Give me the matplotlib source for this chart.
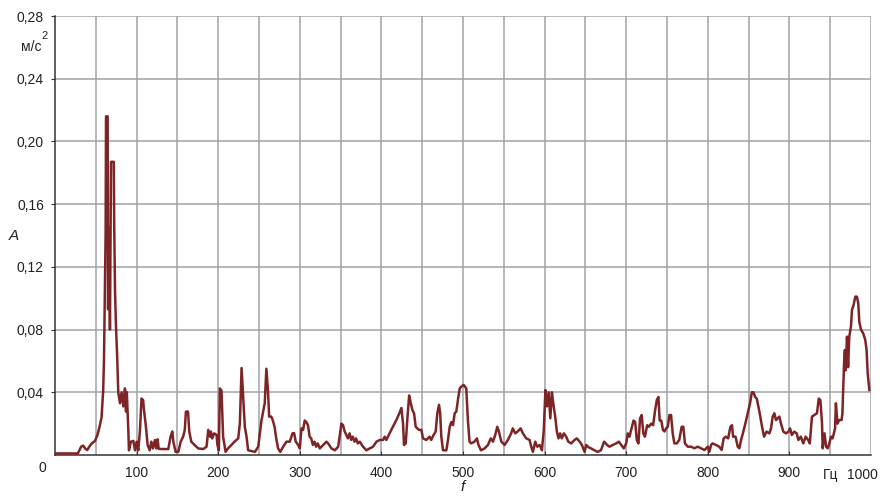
import numpy as np
import matplotlib
matplotlib.use("Agg")
import matplotlib.pyplot as plt

# спектр ускорения, значения (f, Гц ; A, м/с2)
freq = [
    0, 28, 32, 34.5, 37.5, 39.5, 42, 45, 49, 52, 55, 57, 59, 60, 61, 62, 62.5, 64.5, 65, 66,
    67.3, 68.6, 72, 72.5, 73.5, 74.7, 76, 77.5, 79.6, 81.6, 83.7, 85.7, 87, 88, 89.8, 90.6,
    93, 96, 98, 100, 102, 104, 106, 108, 109, 111, 113.5, 116, 118, 120, 122.4, 124, 125.7,
    127, 130.6, 138.8, 141.6, 143.7, 145, 147.8, 151, 154, 157, 159, 160.4, 163, 164.5, 167,
    171, 175.5, 181.6, 185.7, 187.8, 190, 191, 192.6, 195, 198, 199, 200.8, 202, 204, 206,
    209, 212, 216, 220, 224.5, 226.5, 228.6, 230.6, 232.6, 234.7, 236.7, 245, 249, 253,
    257, 259, 261, 262.4, 265, 267, 269, 271.4, 273.4, 276, 279.6, 283.7, 287.7, 291, 293,
    295, 298, 300, 302, 304, 306, 308, 310, 312, 314, 316, 318, 320, 322, 324.5, 328.6,
    332.6, 334.7, 338.8, 343, 347, 349, 351, 353, 355, 357, 359, 361, 363, 365, 367, 369,
    371, 373.4, 377.5, 381.6, 385.7, 389.8, 393.9, 398, 402, 404, 406, 408, 410, 414, 418,
    422, 424.5, 426.5, 427.7, 429.8, 432, 434, 436, 438, 440, 442, 444, 446, 449, 451, 455,
    459, 461, 464, 466.5, 468.5, 470.6, 472, 473.4, 475.5, 479.6, 481.6, 483.7, 485.7,
    487.7, 489.8, 491.8, 494, 496, 498, 500.8, 504, 506, 508, 510, 514, 517, 519, 522,
    526.5, 530.6, 534, 536.7, 539.5, 542, 544, 547, 551, 555, 559, 561, 564, 567, 570.6,
    573.4, 577.5, 581.6, 583.6, 585.7, 588.5, 591, 594, 596.7, 599, 601, 603, 605, 607,
    609, 610.6, 613, 615, 617, 619, 621, 623.6, 626.5, 629, 632.6, 636.7, 639.5, 643,
    645.7, 649, 651, 654, 657, 661, 665, 669, 673, 676.7, 679.5, 683.6, 687.7, 691, 694,
    697, 700, 702, 704, 707, 709, 711, 713, 715, 717, 719, 721, 723, 725.7, 727.7, 730.6,
    733, 735.5, 737.5, 739.5, 741, 743, 745, 747, 749, 751, 753, 755, 757, 759, 762, 765,
    768, 770, 772, 775.5, 779.5, 783.6, 787.7, 791.8, 796, 800, 802, 804, 806, 810, 814,
    817, 819.5, 822, 825, 827.7, 829.7, 831, 834, 836.7, 838.7, 840.8, 843, 846, 849,
    851.8, 854, 856, 858, 860, 862, 864, 866.5, 869, 872, 875.5, 877.5, 879.5, 881.6,
    883.6, 885.7, 887.7, 889.7, 892.6, 895.8, 899, 900.8, 903, 906, 909, 911, 914, 917,
    920, 923, 925, 927.7, 930.6, 933.8, 936, 938, 940, 940.8, 943, 945, 947, 949, 951,
    953, 956, 957, 959, 961, 964, 965, 967, 968, 969, 970.6, 972, 973.4, 975.5, 976.7,
    978.7, 980.8, 982.8, 984.4, 985.7, 987.7, 990.5, 993, 994.6, 996, 998,
]
ampl = [
    0.001, 0.001, 0.0053, 0.006, 0.0038, 0.0032, 0.0053, 0.0074, 0.009, 0.0128, 0.019, 0.024, 0.041, 0.061, 0.10, 0.142, 0.216, 0.216, 0.093, 0.145,
    0.080, 0.187, 0.187, 0.148, 0.105, 0.082, 0.065, 0.040, 0.033, 0.040, 0.031, 0.0425, 0.0277, 0.040, 0.016, 0.003,
    0.0085, 0.009, 0.003, 0.0085, 0.003, 0.015, 0.036, 0.035, 0.0287, 0.020, 0.0064, 0.003, 0.0085, 0.0042, 0.0096, 0.0042, 0.010,
    0.004, 0.0038, 0.0038, 0.0117, 0.015, 0.0085, 0.002, 0.002, 0.0085, 0.0117, 0.016, 0.0277, 0.0277, 0.015, 0.0085,
    0.0064, 0.0042, 0.0038, 0.0053, 0.016, 0.0117, 0.015, 0.0106, 0.0138, 0.0128, 0.0064, 0.003, 0.0425, 0.041, 0.0117,
    0.002, 0.0042, 0.0064, 0.0085, 0.0106, 0.020, 0.0555, 0.037, 0.018, 0.0117, 0.003, 0.002, 0.0053, 0.022,
    0.033, 0.055, 0.041, 0.0245, 0.0245, 0.022, 0.018, 0.0096, 0.0042, 0.002, 0.0053, 0.0085, 0.0085, 0.0138, 0.014,
    0.0085, 0.0064, 0.0042, 0.017, 0.016, 0.022, 0.021, 0.019, 0.0117, 0.0106, 0.0064, 0.0085, 0.0053, 0.0074, 0.0042, 0.0064,
    0.0085, 0.0074, 0.0042, 0.003, 0.0053, 0.0128, 0.020, 0.019, 0.015, 0.0128, 0.0106, 0.0138, 0.0096, 0.0117, 0.0085, 0.0106,
    0.0074, 0.0085, 0.0053, 0.003, 0.0042, 0.0053, 0.0085, 0.0096, 0.0096, 0.0117, 0.0096, 0.0117, 0.0138, 0.018, 0.022,
    0.0266, 0.030, 0.020, 0.0064, 0.0074, 0.0245, 0.038, 0.033, 0.0287, 0.0266, 0.018, 0.017, 0.016, 0.016, 0.0106, 0.0096,
    0.0117, 0.0096, 0.0128, 0.015, 0.0266, 0.032, 0.0266, 0.0117, 0.003, 0.003, 0.0096, 0.018, 0.021,
    0.019, 0.0266, 0.0277, 0.036, 0.0425, 0.0436, 0.0447, 0.0425, 0.022, 0.0085, 0.0074, 0.0085, 0.0106, 0.0064, 0.003,
    0.0042, 0.0064, 0.0106, 0.0085, 0.0128, 0.018, 0.015, 0.0085, 0.0064, 0.0096, 0.0138, 0.017, 0.0138, 0.015, 0.017,
    0.0138, 0.0106, 0.0096, 0.0053, 0.002, 0.0085, 0.0053, 0.0064, 0.003, 0.016, 0.0415, 0.031, 0.040, 0.0234,
    0.040, 0.033, 0.0245, 0.015, 0.0106, 0.0138, 0.0106, 0.0138, 0.0117, 0.0085, 0.0074, 0.0096, 0.0106, 0.0085,
    0.0064, 0.002, 0.0064, 0.0049, 0.0042, 0.003, 0.002, 0.003, 0.0085, 0.0064, 0.0053, 0.0064, 0.0074, 0.0085, 0.0064,
    0.0042, 0.0074, 0.0138, 0.0117, 0.018, 0.022, 0.021, 0.0096, 0.0074, 0.0234, 0.0255, 0.0138, 0.0117, 0.019, 0.018, 0.020,
    0.019, 0.0287, 0.035, 0.037, 0.022, 0.022, 0.016, 0.015, 0.017, 0.018, 0.0255, 0.0255, 0.0138, 0.0074, 0.0074, 0.0096,
    0.018, 0.018, 0.0074, 0.0053, 0.0053, 0.0043, 0.0053, 0.0043, 0.0032, 0.0053, 0.0021, 0.0064, 0.0074, 0.0064, 0.0053,
    0.0032, 0.0106, 0.0117, 0.0106, 0.018, 0.019, 0.0117, 0.0117, 0.0053, 0.0043, 0.0096, 0.0138, 0.020, 0.0266,
    0.033, 0.040, 0.040, 0.037, 0.036, 0.031, 0.0255, 0.018, 0.0117, 0.0149, 0.0138, 0.017, 0.0245, 0.0266,
    0.0223, 0.0234, 0.0245, 0.020, 0.0149, 0.0138, 0.0149, 0.017, 0.0128, 0.0149, 0.0138, 0.0096, 0.0117, 0.0074,
    0.0117, 0.0096, 0.0074, 0.0245, 0.0255, 0.0266, 0.036, 0.035, 0.020, 0.0043, 0.0138, 0.0053, 0.0043, 0.0074, 0.0117,
    0.0106, 0.017, 0.033, 0.020, 0.0223, 0.0223, 0.0266, 0.0585, 0.067, 0.054, 0.0755, 0.056, 0.0755, 0.082, 0.0925,
    0.0957, 0.101, 0.101, 0.0968, 0.085, 0.080, 0.0776, 0.0734, 0.067, 0.052, 0.0415,
]

y_ticks = [0.04, 0.08, 0.12, 0.16, 0.20, 0.24, 0.28]
y_labels = ["0,04", "0,08", "0,12", "0,16", "0,20", "0,24", "0,28"]
x_ticks = [100, 200, 300, 400, 500, 600, 700, 800, 900]

plt.rcParams['font.family'] = ['Liberation Sans', 'DejaVu Sans']

fig = plt.figure(figsize=(8.82, 4.97), dpi=100)
ax = fig.add_axes([0.0624, 0.0845, 0.9251, 0.8833])

ax.plot(freq, ampl, color='#7d2526', lw=1.8, zorder=3)

ax.set_xlim(0, 1000)
ax.set_ylim(0, 0.28)

# сетка через 50 Гц и 0,04
for xv in np.arange(50, 1001, 50):
    ax.axvline(xv, color='#a0a3a7', lw=1.1, zorder=1)
for yv in y_ticks:
    ax.axhline(yv, color='#a0a3a7', lw=1.1, zorder=1)

for s in ['top', 'right']:
    ax.spines[s].set_visible(False)
for s in ['left', 'bottom']:
    ax.spines[s].set_color('#333333')
    ax.spines[s].set_linewidth(1.1)

ax.set_yticks(y_ticks)
ax.set_yticklabels(y_labels, fontsize=10, color='#222222')
ax.tick_params(axis='y', direction='out', length=3, pad=5, color='#333333')

ax.set_xticks(x_ticks)
ax.set_xticklabels([str(v) for v in x_ticks], fontsize=10, color='#222222')
ax.tick_params(axis='x', direction='in', length=3, pad=8, color='#333333')

# подписи
fig.text(0.0476, 0.058, "0", fontsize=10, color='#222222', ha='center', va='center')
ax.text(950, -0.008, "Гц", fontsize=10, color='#222222', ha='center', va='top')
ax.text(989, -0.008, "1000", fontsize=10, color='#222222', ha='center', va='top')
fig.text(0.047, 0.905, "м/с", fontsize=10, color='#222222', ha='right', va='center')
fig.text(0.0475, 0.928, "2", fontsize=8, color='#222222', ha='left', va='center')
fig.text(0.016, 0.525, "A", fontsize=11, style='italic', color='#222222', ha='center', va='center')
fig.text(0.524, 0.02, "f", fontsize=11, style='italic', color='#222222', ha='center', va='center')

fig.savefig("out.png", dpi=100)
